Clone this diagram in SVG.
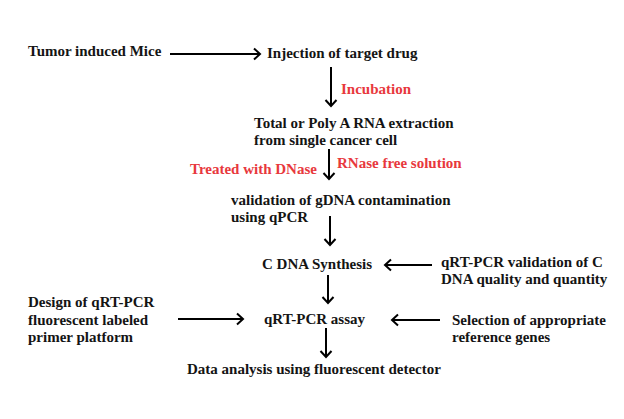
<svg xmlns="http://www.w3.org/2000/svg" width="624" height="419" viewBox="0 0 624 419" font-family="Liberation Serif, Times New Roman, serif">
<style>
text{font-family:'Liberation Serif',serif;font-weight:700;font-size:15px;fill:#141414}
text.red{fill:#e8383d}
.conn line{stroke:#000;stroke-width:2;fill:none;marker-end:url(#ah)}
</style>
<defs>
<marker id="ah" markerUnits="userSpaceOnUse" viewBox="-8 -7 10 14" refX="0" refY="0" markerWidth="10" markerHeight="14" orient="auto" overflow="visible">
<path d="M-6,-5.5 L0,0 L-6,5.5" fill="none" stroke="#000" stroke-width="2"/>
</marker>
</defs>
<rect width="624" height="419" fill="#fff"/>
<g id="n-mice"><text x="28" y="56">Tumor induced Mice</text></g>
<g id="n-injection"><text x="267" y="58">Injection of target drug</text></g>
<g id="l-incubation"><text class="red" x="341" y="94">Incubation</text></g>
<g id="n-rna"><text x="254" y="128">Total or Poly A RNA extraction</text><text x="254" y="145">from single cancer cell</text></g>
<g id="l-dnase"><text class="red" x="190" y="174">Treated with DNase</text></g>
<g id="l-rnase"><text class="red" x="337" y="168">RNase free solution</text></g>
<g id="n-validation"><text x="231" y="205">validation of gDNA contamination</text><text x="231" y="222">using qPCR</text></g>
<g id="n-cdna"><text x="262" y="269">C DNA Synthesis</text></g>
<g id="n-qrtval"><text x="441" y="267">qRT-PCR validation of C</text><text x="441" y="284">DNA quality and quantity</text></g>
<g id="n-design"><text x="28" y="307">Design of qRT-PCR</text><text x="28" y="325">fluorescent labeled</text><text x="28" y="342">primer platform</text></g>
<g id="n-assay"><text x="264" y="324">qRT-PCR assay</text></g>
<g id="n-selection"><text x="452" y="325">Selection of appropriate</text><text x="452" y="342">reference genes</text></g>
<g id="n-data"><text x="187" y="374">Data analysis using fluorescent detector</text></g>
<g class="conn" id="connectors">
<line x1="170" y1="54" x2="260" y2="54"/>
<line x1="331" y1="67" x2="331" y2="106"/>
<line x1="329" y1="149" x2="329" y2="179"/>
<line x1="330" y1="216" x2="330" y2="245"/>
<line x1="432" y1="265" x2="385" y2="265"/>
<line x1="328" y1="275" x2="328" y2="303"/>
<line x1="178" y1="319" x2="243" y2="319"/>
<line x1="440" y1="320" x2="392" y2="320"/>
<line x1="326" y1="328" x2="326" y2="357"/>
</g>
</svg>
